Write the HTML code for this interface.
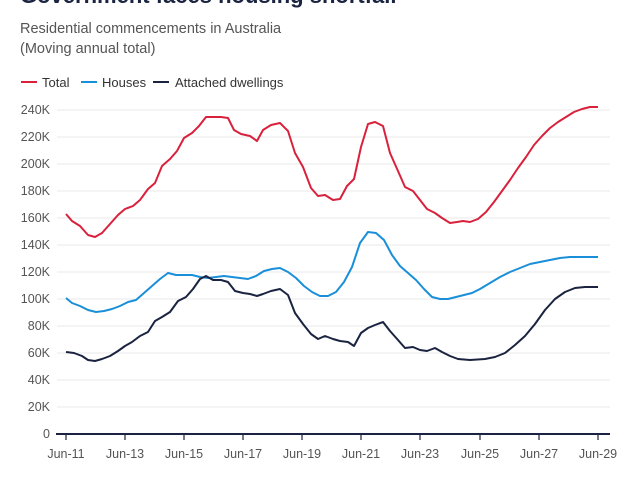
<!DOCTYPE html><html><head><style>body{margin:0;width:640px;height:480px;background:#fff;overflow:hidden;font-family:"Liberation Sans",sans-serif}</style></head><body>
<svg width="640" height="480" xmlns="http://www.w3.org/2000/svg" font-family="Liberation Sans, sans-serif">
<text x="20" y="3" font-size="22" font-weight="bold" fill="#1a2340">Government faces housing shortfall</text>
<text x="20" y="33" font-size="14.5" fill="#555">Residential commencements in Australia</text>
<text x="20" y="53" font-size="14.5" fill="#555">(Moving annual total)</text>
<g font-size="13" fill="#333">
<line x1="21" y1="82" x2="37" y2="82" stroke="#d9213c" stroke-width="2"/><text x="42" y="87">Total</text>
<line x1="81" y1="82" x2="97" y2="82" stroke="#1a8fd9" stroke-width="2"/><text x="102" y="87">Houses</text>
<line x1="153" y1="82" x2="169" y2="82" stroke="#1a2340" stroke-width="2"/><text x="175" y="87">Attached dwellings</text>
</g>
<g stroke="#e8e8e8" stroke-width="1">
<line x1="57" y1="110" x2="610" y2="110"/><line x1="57" y1="137" x2="610" y2="137"/><line x1="57" y1="164" x2="610" y2="164"/><line x1="57" y1="191" x2="610" y2="191"/><line x1="57" y1="218" x2="610" y2="218"/><line x1="57" y1="245" x2="610" y2="245"/><line x1="57" y1="272" x2="610" y2="272"/><line x1="57" y1="299" x2="610" y2="299"/><line x1="57" y1="326" x2="610" y2="326"/><line x1="57" y1="353" x2="610" y2="353"/><line x1="57" y1="380" x2="610" y2="380"/><line x1="57" y1="407" x2="610" y2="407"/>
</g>
<g font-size="12.5" fill="#555" text-anchor="end">
<text x="50" y="114">240K</text><text x="50" y="141">220K</text><text x="50" y="168">200K</text><text x="50" y="195">180K</text><text x="50" y="222">160K</text><text x="50" y="249">140K</text><text x="50" y="276">120K</text><text x="50" y="303">100K</text><text x="50" y="330">80K</text><text x="50" y="357">60K</text><text x="50" y="384">40K</text><text x="50" y="411">20K</text><text x="50" y="438">0</text>
</g>
<line x1="56" y1="434" x2="610" y2="434" stroke="#1a2340" stroke-width="2"/>
<g stroke="#1a2340" stroke-width="1.2">
<line x1="66" y1="434" x2="66" y2="440"/><line x1="125" y1="434" x2="125" y2="440"/><line x1="184" y1="434" x2="184" y2="440"/><line x1="243" y1="434" x2="243" y2="440"/><line x1="302" y1="434" x2="302" y2="440"/><line x1="361" y1="434" x2="361" y2="440"/><line x1="420" y1="434" x2="420" y2="440"/><line x1="480" y1="434" x2="480" y2="440"/><line x1="539" y1="434" x2="539" y2="440"/><line x1="598" y1="434" x2="598" y2="440"/>
</g>
<g font-size="12.5" fill="#555" text-anchor="middle">
<text x="66" y="458">Jun-11</text><text x="125" y="458">Jun-13</text><text x="184" y="458">Jun-15</text><text x="243" y="458">Jun-17</text><text x="302" y="458">Jun-19</text><text x="361" y="458">Jun-21</text><text x="420" y="458">Jun-23</text><text x="480" y="458">Jun-25</text><text x="539" y="458">Jun-27</text><text x="598" y="458">Jun-29</text>
</g>
<g fill="none" stroke-width="2" stroke-linejoin="round">
<polyline stroke="#d9213c" points="66,214 72,221 80,226 88,235 95,237 102,233 110,224 118,215 125,209 133,206 140,200 148,189 155,183 162,166 170,159 177,151 184,138 192,133 199,126 206,117 213,117 221,117 228,118 234,130 241,134 250,136 257,141 263,130 271,125 280,123 288,131 295,153 303,167 311,188 318,196 325,195 333,200 340,199 347,186 354,179 361,147 368,124 375,122 383,126 390,153 398,171 405,187 413,191 420,200 427,209 435,213 442,218 450,223 457,222 463,221 470,222 478,219 486,212 494,202 502,191 510,180 518,168 526,157 534,145 542,136 550,128 558,122 566,117 574,112 582,109 590,107 598,107"/>
<polyline stroke="#1a8fd9" points="66,298 72,303 80,306 88,310 96,312 104,311 112,309 120,306 128,302 136,300 144,293 152,286 160,279 168,273 176,275 185,275 192,275 200,277 208,278 216,277 224,276 232,277 240,278 248,279 256,276 264,271 272,269 280,268 288,272 296,278 304,286 312,292 320,296 328,296 336,292 344,282 352,267 360,243 368,232 376,233 384,240 392,255 400,266 408,273 416,280 424,289 432,297 440,299 448,299 456,297 464,295 472,293 480,289 490,283 500,277 510,272 520,268 530,264 540,262 550,260 560,258 570,257 580,257 598,257"/>
<polyline stroke="#1a2340" points="66,352 74,353 82,356 88,360 95,361 102,359 110,356 118,351 125,346 132,342 140,336 148,332 155,321 162,317 170,312 178,301 186,297 193,289 200,279 206,276 213,280 221,280 228,282 235,291 243,293 250,294 257,296 263,294 271,291 280,289 288,295 295,313 303,324 311,334 318,339 325,336 333,339 340,341 348,342 354,346 361,333 368,328 375,325 383,322 390,331 398,340 405,348 413,347 420,350 427,351 435,348 442,352 450,356 458,359 470,360 485,359 495,357 505,353 515,345 525,336 535,324 545,310 555,299 565,292 575,288 585,287 598,287"/>
</g>
</svg></body></html>
